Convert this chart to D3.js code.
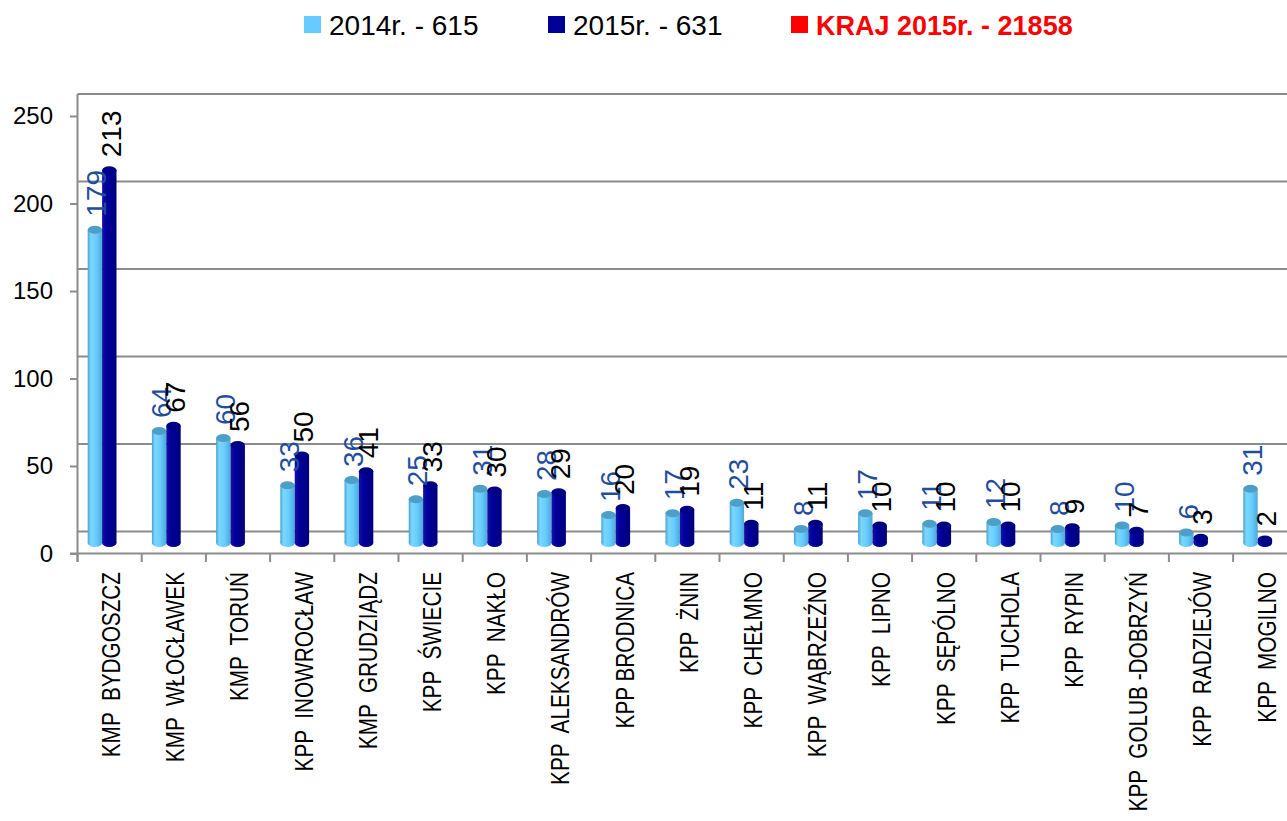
<!DOCTYPE html>
<html>
<head>
<meta charset="utf-8">
<script src="https://cdn.jsdelivr.net/npm/d3@7"></script>
<style>
  html, body { margin: 0; padding: 0; background: #fff; }
  svg { display: block; font-family: "Liberation Sans", Arial, sans-serif; }
  .cat { white-space: pre; }
</style>
</head>
<body>
<div id="chart"></div>
<script>
// Data
const categories = [
    'KMP  BYDGOSZCZ', 'KMP  WŁOCŁAWEK', 'KMP  TORUŃ', 'KPP  INOWROCŁAW', 'KMP  GRUDZIĄDZ',
    'KPP  ŚWIECIE', 'KPP  NAKŁO', 'KPP  ALEKSANDRÓW', 'KPP BRODNICA', 'KPP  ŻNIN',
    'KPP  CHEŁMNO', 'KPP  WĄBRZEŹNO', 'KPP  LIPNO', 'KPP  SĘPÓLNO', 'KPP  TUCHOLA',
    'KPP  RYPIN', 'KPP  GOLUB -DOBRZYŃ', 'KPP  RADZIEJÓW', 'KPP  MOGILNO'
];
const values2014 = [179, 64, 60, 33, 36, 25, 31, 28, 16, 17, 23, 8, 17, 11, 12, 8, 10, 6, 31];
const values2015 = [213, 67, 56, 50, 41, 33, 30, 29, 20, 19, 11, 11, 10, 10, 10, 9, 7, 3, 2];
const yTicks = [0, 50, 100, 150, 200, 250];
const krajTotal2015 = 21858;

const width = 1287, height = 821;
const depth = 22;      // back wall offset of the 3D plot
const barLift = 10.5;  // cylinders stand a bit behind the front axis
const cylW = 14.4, capRy = 4;

const svg = d3.select('#chart').append('svg')
    .attr('width', width)
    .attr('height', height);

// Gradients for the cylinder bodies
const defs = svg.append('defs');
function bodyGradient(id, stops) {
    const g = defs.append('linearGradient').attr('id', id)
        .attr('x1', '0%').attr('x2', '100%').attr('y1', '0%').attr('y2', '0%');
    stops.forEach(([o, c]) => g.append('stop').attr('offset', o).attr('stop-color', c));
}
bodyGradient('light', [['0%', '#4aa3cf'], ['22%', '#7bd7ff'], ['60%', '#66ccff'], ['100%', '#4ea8d6']]);
bodyGradient('dark', [['0%', '#1414a8'], ['30%', '#00009c'], ['100%', '#00007c']]);

const series = [
    { name: '2014r.', values: values2014, body: 'url(#light)', cap: '#4e9fc7', legend: '#66ccff', label: '#1f4e9e', dx: -cylW / 2 },
    { name: '2015r.', values: values2015, body: 'url(#dark)', cap: '#000084', legend: '#000099', label: '#000000', dx: cylW / 2 }
];

// Scales
const x = d3.scaleBand()
    .domain(categories)
    .range([77.5, 77.5 + 64.2 * categories.length]);
const y = d3.scaleLinear()
    .domain([0, 250])
    .range([553.5, 116]);

// Back wall gridlines
svg.append('g').selectAll('line')
    .data(yTicks)
    .join('line')
    .attr('x1', 77.5).attr('x2', width)
    .attr('y1', d => y(d) - depth).attr('y2', d => y(d) - depth)
    .attr('stroke', '#8c8c8c')
    .attr('stroke-width', 2);

// Y axis
const axisY = svg.append('g')
    .attr('transform', 'translate(77.5,0)')
    .call(d3.axisLeft(y).tickValues(yTicks).tickSize(7.5).tickPadding(17));
axisY.select('.domain').remove();
axisY.selectAll('line').attr('stroke', '#8c8c8c').attr('stroke-width', 2);
axisY.selectAll('text')
    .attr('font-size', 24)
    .attr('fill', '#000')
    .attr('font-family', '"Liberation Sans", Arial, sans-serif');

svg.append('line')
    .attr('x1', 77.5).attr('x2', 77.5)
    .attr('y1', y(250) - depth).attr('y2', y(0) + 8.5)
    .attr('stroke', '#8c8c8c').attr('stroke-width', 2);

// X axis line and category boundary ticks
svg.append('line')
    .attr('x1', 70).attr('x2', width)
    .attr('y1', y(0)).attr('y2', y(0))
    .attr('stroke', '#8c8c8c').attr('stroke-width', 2);
const bounds = categories.map(c => x(c)).concat([x.range()[1]]);
svg.append('g').selectAll('line')
    .data(bounds)
    .join('line')
    .attr('x1', d => d).attr('x2', d => d)
    .attr('y1', y(0)).attr('y2', y(0) + 8.5)
    .attr('stroke', '#8c8c8c').attr('stroke-width', 2);

// Category labels
svg.append('g').selectAll('text')
    .data(categories)
    .join('text')
    .classed('cat', true)
    .attr('transform', d => `translate(${x(d) + x.bandwidth() / 2 + 1.4},572) rotate(-90) scale(0.83,1)`)
    .attr('dy', '0.36em')
    .attr('text-anchor', 'end')
    .attr('font-size', 25)
    .attr('fill', '#000')
    .text(d => d);

// Cylinders
const cx = (c, s) => x(c) + x.bandwidth() / 2 - 7.5 + s.dx;
const barBase = y(0) - barLift;
const barTop = v => y(v) - barLift;

const bars = svg.append('g');
categories.forEach((c, i) => {
    series.forEach(s => {
        const v = s.values[i];
        const g = bars.append('g');
        g.append('rect')
            .attr('x', cx(c, s) - cylW / 2)
            .attr('y', barTop(v))
            .attr('width', cylW)
            .attr('height', barBase - barTop(v))
            .attr('fill', s.body);
        g.append('ellipse')
            .attr('cx', cx(c, s)).attr('cy', barBase)
            .attr('rx', cylW / 2).attr('ry', capRy)
            .attr('fill', s.body);
        g.append('ellipse')
            .attr('cx', cx(c, s)).attr('cy', barTop(v))
            .attr('rx', cylW / 2).attr('ry', capRy)
            .attr('fill', s.cap);
    });
});

// Value labels
const labels = svg.append('g');
series.forEach(s => {
    labels.selectAll(null)
        .data(categories)
        .join('text')
        .attr('transform', (c, i) => `translate(${cx(c, s) + 1.5},${barTop(s.values[i]) - 13}) rotate(-90)`)
        .attr('dy', '0.36em')
        .attr('font-size', 28)
        .attr('fill', s.label)
        .text((c, i) => s.values[i]);
});

// Legend
const legendItems = [
    { text: `2014r. - ${d3.sum(values2014)}`, color: series[0].legend, x: 304, bold: false },
    { text: `2015r. - ${d3.sum(values2015)}`, color: series[1].legend, x: 548, bold: false },
    { text: `KRAJ 2015r. - ${krajTotal2015}`, color: '#ff0000', x: 791, bold: true }
];
const legend = svg.append('g');
legendItems.forEach(d => {
    legend.append('rect')
        .attr('x', d.x).attr('y', 16)
        .attr('width', 17).attr('height', 17)
        .attr('fill', d.color);
    legend.append('text')
        .attr('x', d.x + 25).attr('y', 35)
        .attr('font-size', d.bold ? 27 : 28)
        .attr('font-weight', d.bold ? 'bold' : 'normal')
        .attr('fill', d.bold ? '#ff0000' : '#000')
        .text(d.text);
});
</script>
</body>
</html>
